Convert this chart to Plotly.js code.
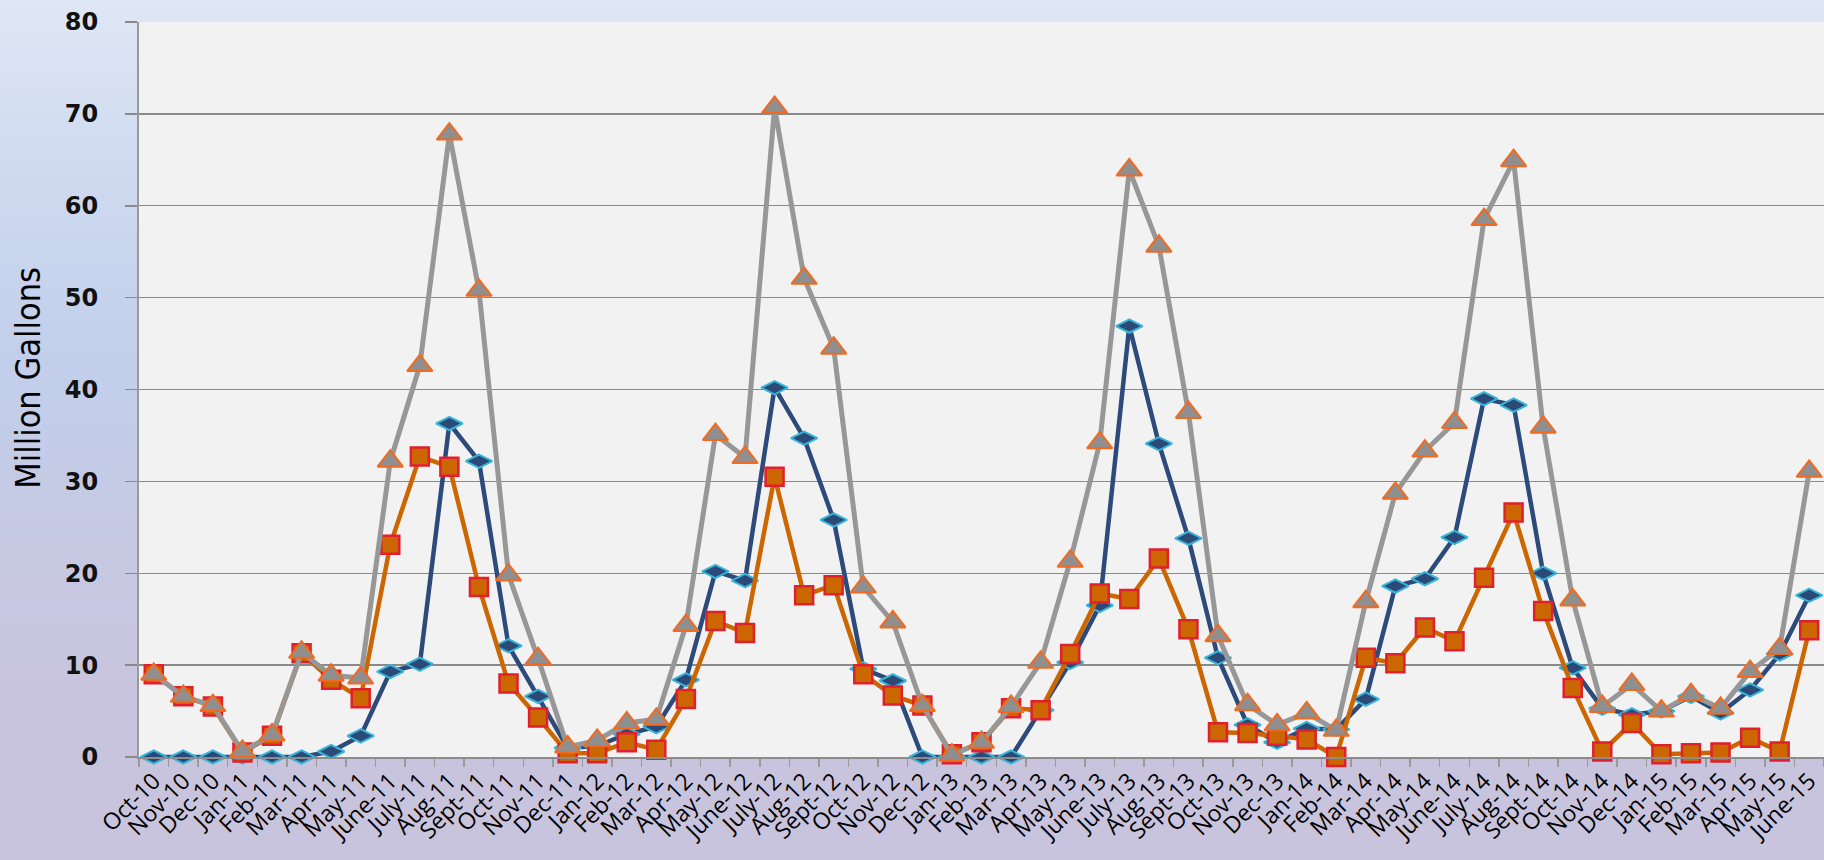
<!DOCTYPE html>
<html>
<head>
<meta charset="utf-8">
<script src="https://cdn.plot.ly/plotly-3.0.1.min.js"></script>
<style>
  html, body { margin: 0; padding: 0; }
  body {
    width: 1824px; height: 860px; overflow: hidden;
    background: linear-gradient(180deg, #dfe7f5 0%, #cfdaf0 20%, #c2cfeb 42%, #c6c9e3 62%, #c9c4dd 80%, #c9c4dd 100%);
  }
  #chart { width: 1824px; height: 860px; }
</style>
</head>
<body>
<div id="chart"></div>
<script>
const months = ["Oct-10","Nov-10","Dec-10","Jan-11","Feb-11","Mar-11","Apr-11","May-11","June-11","July-11","Aug-11","Sept-11",
  "Oct-11","Nov-11","Dec-11","Jan-12","Feb-12","Mar-12","Apr-12","May-12","June-12","July-12","Aug-12","Sept-12",
  "Oct-12","Nov-12","Dec-12","Jan-13","Feb-13","Mar-13","Apr-13","May-13","June-13","July-13","Aug-13","Sept-13",
  "Oct-13","Nov-13","Dec-13","Jan-14","Feb-14","Mar-14","Apr-14","May-14","June-14","July-14","Aug-14","Sept-14",
  "Oct-14","Nov-14","Dec-14","Jan-15","Feb-15","Mar-15","Apr-15","May-15","June-15"];

const blueSeries = [0,0,0,0,0,0,0.6,2.3,9.3,10.1,36.3,32.2,
  12.1,6.6,1.0,1.2,2.5,3.3,8.4,20.2,19.2,40.2,34.7,25.8,
  9.6,8.3,0,0,0,0,5.1,10.3,16.5,46.9,34.1,23.8,
  10.8,3.5,1.6,3.1,3.0,6.3,18.6,19.4,23.9,39.0,38.3,20.0,
  9.7,5.3,4.6,5.0,6.6,4.8,7.3,11.2,17.6];

const orangeSeries = [9.0,6.6,5.5,0.5,2.3,11.3,8.4,6.4,23.1,32.7,31.6,18.5,
  8.0,4.3,0.4,0.4,1.6,0.8,6.3,14.8,13.5,30.5,17.6,18.7,
  9.0,6.7,5.6,0.3,1.6,5.3,5.1,11.2,17.8,17.2,21.6,13.9,
  2.7,2.6,2.3,1.9,0,10.8,10.2,14.1,12.6,19.5,26.6,15.9,
  7.5,0.6,3.7,0.3,0.4,0.5,2.1,0.6,13.8];

const graySeries = [9.0,6.6,5.6,0.6,2.4,11.4,8.9,8.6,32.2,42.6,67.8,50.8,
  19.8,10.7,1.1,1.8,3.7,4.1,14.3,35.1,32.6,70.7,52.1,44.5,
  18.5,14.7,5.6,0.2,1.6,5.5,10.3,21.3,34.2,63.9,55.6,37.5,
  13.2,5.7,3.5,4.8,2.9,16.9,28.7,33.3,36.4,58.5,64.9,35.9,
  17.1,5.5,7.9,5.0,6.8,5.3,9.3,11.8,31.1];

const yTicks = [0,10,20,30,40,50,60,70,80];
const yTitle = "Million Gallons";

const traces = [
  {
    x: months, y: blueSeries, type: "scatter", mode: "lines+markers",
    cliponaxis: false,
    line: { color: "#2c4b7a", width: 4.5 },
    marker: { symbol: "diamond-wide", size: 19, color: "#2c4a78", line: { color: "#38b4d8", width: 2 } }
  },
  {
    x: months, y: orangeSeries, type: "scatter", mode: "lines+markers",
    cliponaxis: false,
    line: { color: "#cc6600", width: 4.5 },
    marker: { symbol: "square", size: 18, color: "#cc6600", line: { color: "#e0202e", width: 2.5 } }
  },
  {
    x: months, y: graySeries, type: "scatter", mode: "lines+markers",
    cliponaxis: false,
    line: { color: "#979797", width: 5 },
    marker: { symbol: "triangle-up", size: 22, color: "#8f8f8f", line: { color: "#f26a1f", width: 2 } }
  }
];

const layout = {
  width: 1824, height: 860,
  margin: { l: 139, r: 0, t: 22, b: 103, pad: 0 },
  paper_bgcolor: "rgba(0,0,0,0)",
  plot_bgcolor: "#f2f2f2",
  showlegend: false,
  xaxis: {
    type: "category",
    range: [-0.5, months.length - 0.5],
    autorange: false,
    tickangle: -45,
    tickson: "boundaries",
    ticks: "outside", ticklen: 8, tickcolor: "#9a9a9a", tickwidth: 1.5,
    showgrid: false,
    showline: true, linecolor: "#8c8c8c", linewidth: 1.5,
    tickfont: { family: "Open Sans, Noto Sans, sans-serif", size: 23, color: "#000" },
    automargin: false
  },
  yaxis: {
    range: [0, 80],
    autorange: false,
    tickvals: yTicks,
    ticktext: yTicks.map(String),
    ticks: "outside", ticklen: 12, tickcolor: "#8a8a8a", tickwidth: 1.5,
    ticklabelstandoff: 22,
    showgrid: true, gridcolor: "#8a8a8a", gridwidth: 1.3,
    zeroline: false,
    showline: true, linecolor: "#9a9a9a", linewidth: 2,
    tickfont: { family: "DejaVu Sans, sans-serif", size: 24, color: "#111", weight: "bold" },
    automargin: false
  },
  annotations: [{
    text: yTitle,
    xref: "paper", yref: "paper",
    x: (28 - 139) / 1685, y: 0.516,
    xanchor: "center", yanchor: "middle",
    textangle: -90, showarrow: false,
    font: { family: "Liberation Sans Narrow, DejaVu Sans Condensed, sans-serif", size: 34, color: "#000" }
  }]
};

Plotly.newPlot("chart", traces, layout, { displayModeBar: false, staticPlot: true });
</script>
</body>
</html>
